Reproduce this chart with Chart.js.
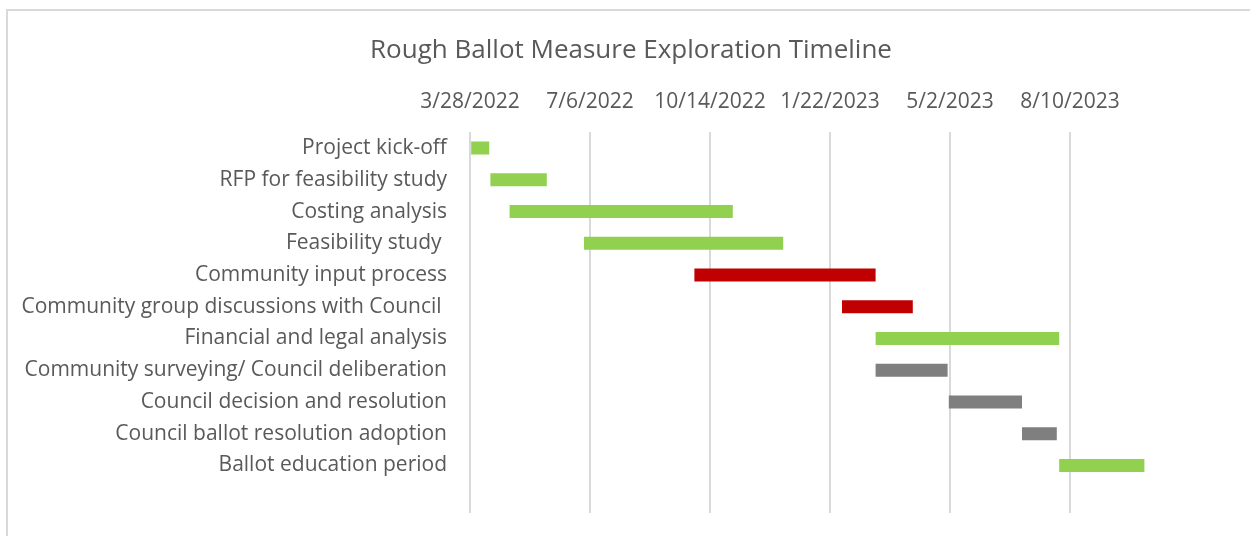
<!DOCTYPE html>
<html>
<head>
<meta charset="utf-8">
<script src="https://cdn.jsdelivr.net/npm/chart.js@4.4.1/dist/chart.umd.min.js"></script>
<style>
  body { margin: 0; background: #fff; overflow: hidden; }
  #frame { position: absolute; left: 6px; top: 9px; width: 1300px; height: 600px; border: 2px solid #d9d9d9; }
  #wrap { position: absolute; left: 0; top: 0; width: 1262px; height: 536px; }
</style>
</head>
<body>
<div id="frame"></div>
<div id="wrap"><canvas id="ganttChart"></canvas></div>
<script>
// tasks, top to bottom (last row left empty as in the original sheet)
const tasks = [
  'Project kick-off',
  'RFP for feasibility study',
  'Costing analysis',
  'Feasibility study ',
  'Community input process',
  'Community group discussions with Council ',
  'Financial and legal analysis',
  'Community surveying/ Council deliberation',
  'Council decision and resolution',
  'Council ballot resolution adoption',
  'Ballot education period',
  ''
];
const startDates = ['3/29/2022', '4/14/2022', '4/30/2022', '7/1/2022', '10/1/2022', '2/1/2023',
                    '3/1/2023', '3/1/2023', '5/1/2023', '7/1/2023', '8/1/2023'];
const endDates   = ['4/13/2022', '5/31/2022', '11/2/2022', '12/14/2022', '3/1/2023', '4/1/2023',
                    '8/1/2023', '4/30/2023', '7/1/2023', '7/30/2023', '10/11/2023'];
const phaseColors = ['#92D050', '#92D050', '#92D050', '#92D050', '#C00000', '#C00000',
                     '#92D050', '#7F7F7F', '#7F7F7F', '#7F7F7F', '#92D050'];
const tickDates = ['3/28/2022', '7/6/2022', '10/14/2022', '1/22/2023', '5/2/2023', '8/10/2023'];
const axisEnd = '1/17/2024';

function toDay(s) {
  const p = s.split('/').map(Number);
  return Date.UTC(p[2], p[0] - 1, p[1]) / 86400000;
}
function fromDay(n) {
  const d = new Date(n * 86400000);
  return (d.getUTCMonth() + 1) + '/' + d.getUTCDate() + '/' + d.getUTCFullYear();
}

const tickDays = tickDates.map(toDay);
const spans = startDates.map((s, i) => [toDay(s), toDay(endDates[i])]);

const textColor = '#595959';
const font = "'Open Sans', sans-serif";

const ctx = document.getElementById('ganttChart').getContext('2d');
const ganttChart = new Chart(ctx, {
  type: 'bar',
  data: {
    labels: tasks,
    datasets: [{
      data: spans,
      backgroundColor: phaseColors,
      borderWidth: 0,
      barPercentage: 0.41,
      categoryPercentage: 1
    }]
  },
  options: {
    indexAxis: 'y',
    responsive: true,
    maintainAspectRatio: false,
    animation: false,
    layout: { padding: { top: 0, right: 0, bottom: 23, left: 0 } },
    plugins: {
      legend: { display: false },
      tooltip: { enabled: false },
      title: {
        display: true,
        text: 'Rough Ballot Measure Exploration Timeline',
        color: textColor,
        font: { family: font, size: 26, weight: 'normal' },
        padding: { top: 35, bottom: 22 }
      }
    },
    scales: {
      x: {
        type: 'linear',
        position: 'top',
        min: tickDays[0],
        max: toDay(axisEnd),
        afterBuildTicks: function(scale) {
          scale.ticks = tickDays.map(v => ({ value: v }));
        },
        afterFit: function(scale) {
          scale.height = 44;
          scale.paddingLeft = 0;
          scale.paddingRight = 0;
        },
        grid: { color: '#d9d9d9', lineWidth: 2, drawTicks: false },
        border: { display: false },
        ticks: {
          color: textColor,
          padding: 18,
          maxRotation: 0,
          font: { family: font, size: 21 },
          callback: function(value) { return fromDay(value); }
        }
      },
      y: {
        afterFit: function(scale) {
          scale.width = 470;
          scale.paddingTop = 0;
          scale.paddingBottom = 0;
        },
        grid: { display: false, drawTicks: false },
        border: { display: false },
        ticks: {
          color: textColor,
          padding: 23,
          autoSkip: false,
          font: { family: font, size: 21 }
        }
      }
    }
  }
});
</script>
</body>
</html>
